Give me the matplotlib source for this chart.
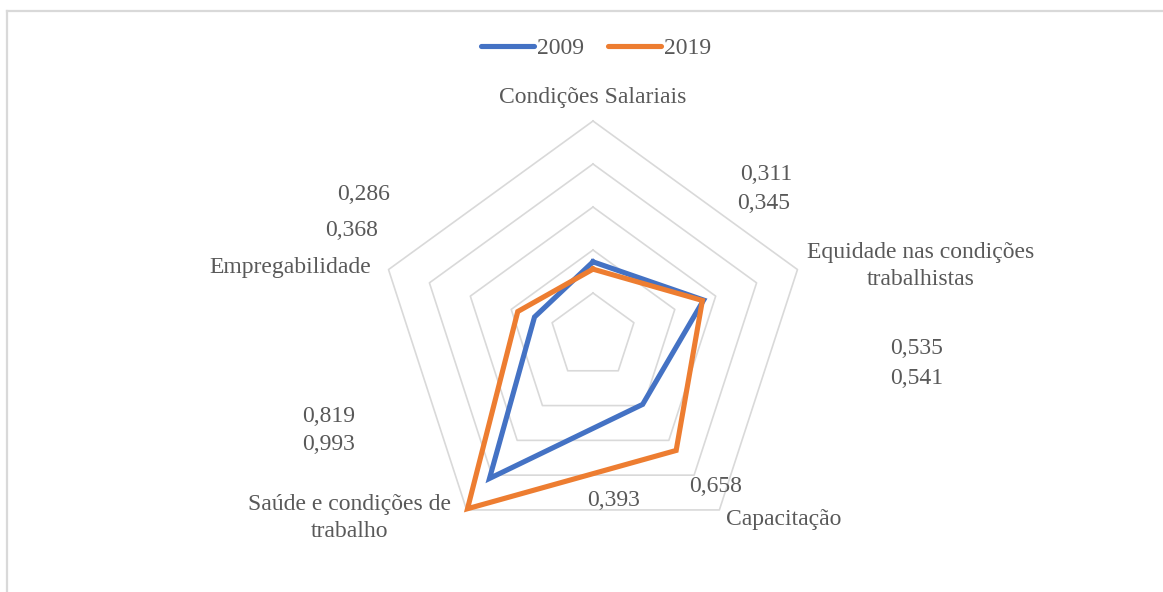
import numpy as np
import matplotlib
matplotlib.use("Agg")
import matplotlib.pyplot as plt
from matplotlib.lines import Line2D

categories = ["Condições Salariais", "Equidade nas condições\ntrabalhistas",
              "Capacitação", "Saúde e condições de\ntrabalho", "Empregabilidade"]
series_names = ["2009", "2019"]
values_2009 = [0.345, 0.541, 0.393, 0.819, 0.286]
values_2019 = [0.311, 0.535, 0.658, 0.993, 0.368]
ring_levels = [0.2, 0.4, 0.6, 0.8, 1.0]

W, H = 1163, 592
plt.rcParams["font.family"] = ["Liberation Serif", "DejaVu Serif"]
TXT = "#595959"
GRID = "#d9d9d9"
BLUE = "#4472C4"
ORANGE = "#ED7D31"
FS = 17

fig = plt.figure(figsize=(W / 100, H / 100), dpi=100)

def fx(px):
    return px / W

def fy(py):
    return 1 - py / H

# polar axes centred at the chart centre
cx, cy, R = 593, 336, 215
ax = fig.add_axes([fx(cx - R), fy(cy + R), 2 * R / W, 2 * R / H], projection="polar")
ax.set_theta_offset(np.pi / 2)
ax.set_theta_direction(-1)
ax.set_ylim(0, 1.0)
ax.grid(False)
ax.set_xticks([])
ax.set_yticks([])
ax.spines["polar"].set_visible(False)
ax.patch.set_alpha(0)

n = len(categories)
theta = np.linspace(0, 2 * np.pi, n, endpoint=False)
theta_c = np.append(theta, theta[0])

for lvl in ring_levels:
    ax.plot(theta_c, [lvl] * (n + 1), color=GRID, lw=1.2, clip_on=False, zorder=1)

for vals, col in [(values_2009, BLUE), (values_2019, ORANGE)]:
    v = np.append(vals, vals[0])
    ax.plot(theta_c, v, color=col, lw=3.7, solid_joinstyle="miter",
            clip_on=False, zorder=3)

def fmt(v):
    return f"{v:.3f}".replace(".", ",")

# category labels
cat_pos = [(593, 97), (921, 266), (784, 519), (350, 518), (290, 268)]
for name, (px, py) in zip(categories, cat_pos):
    fig.text(fx(px), fy(py), name, ha="center", va="center", fontsize=FS,
             color=TXT, linespacing=1.4)

# data labels (2009, 2019) per category
lab_2009 = [(764, 203), (917, 378), (614, 500), (329, 416), (364, 195)]
lab_2019 = [(766, 175), (917, 348), (716, 486), (329, 445), (352, 230)]
for vals, pos in [(values_2009, lab_2009), (values_2019, lab_2019)]:
    for v, (px, py) in zip(vals, pos):
        fig.text(fx(px), fy(py), fmt(v), ha="center", va="center",
                 fontsize=FS, color=TXT)

# legend
handles = [Line2D([], [], color=BLUE, lw=3.7, solid_capstyle="round"),
           Line2D([], [], color=ORANGE, lw=3.7, solid_capstyle="round")]
fig.legend(handles, series_names, loc="center", bbox_to_anchor=(fx(596), fy(48)),
           ncol=2, frameon=False, fontsize=FS, handlelength=2.25,
           handletextpad=0.12, columnspacing=1.0, labelcolor=TXT)

# outer chart border
fig.add_artist(Line2D([fx(7), fx(1170)], [fy(11), fy(11)], color=GRID, lw=1.6,
                      transform=fig.transFigure))
fig.add_artist(Line2D([fx(7), fx(7)], [fy(11), fy(600)], color=GRID, lw=1.6,
                      transform=fig.transFigure))

fig.savefig("out.png", dpi=100, facecolor="white")
